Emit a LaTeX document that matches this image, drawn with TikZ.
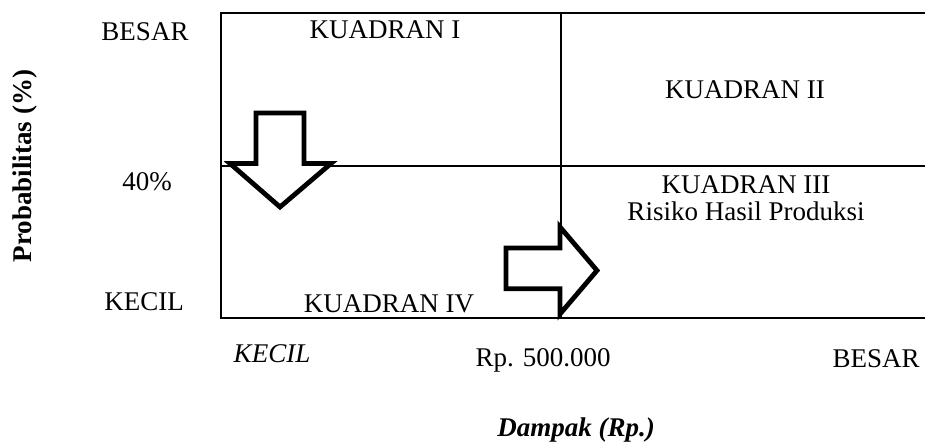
\documentclass[tikz,border=0pt]{standalone}
\usepackage{fontspec}
\setmainfont{Liberation Serif}
\begin{document}
\begin{tikzpicture}[x=1pt,y=-1pt,
  lbl/.style={anchor=base,inner sep=0pt,font=\fontsize{27}{31}\selectfont},
  grid/.style={line width=2pt},
  blockarrow/.style={draw=black,fill=white,line width=4.8pt,miter limit=10}]
\useasboundingbox (0,0) rectangle (925,443);

% quadrant frame, open on the right
\coordinate (tl) at (221,13);
\coordinate (tr) at (925,13);
\coordinate (bl) at (221,318);
\coordinate (br) at (925,318);
\coordinate (ml) at (221,166);
\coordinate (mr) at (925,166);
\coordinate (mt) at (561,13);
\coordinate (mb) at (561,318);
\draw[grid] (tr) -- (tl) -- (bl) -- (br);
\draw[grid,line width=1.6pt] (ml) -- (mr);
\draw[grid,line width=1.6pt] (mt) -- (mb);

% block arrows
\draw[blockarrow] (256,113) -- (304,113) -- (304,163.5) -- (331,163.5)
  -- (280,207) -- (230,163.5) -- (256,163.5) -- cycle;
\draw[blockarrow] (506,248) -- (560,248) -- (560,227) -- (597,270.5)
  -- (560,314) -- (560,288.7) -- (506,288.7) -- cycle;

% quadrant labels
\node[lbl] (q1) at (385,39) {KUADRAN I};
\node[lbl] (q2) at (745,99) {KUADRAN II};
\node[lbl] (q3) at (746,194) {KUADRAN III};
\node[lbl] (q3b) at (746,221) {Risiko Hasil Produksi};
\node[lbl] (q4) at (389,312) {KUADRAN IV};

% vertical axis
\node[lbl] (ybig) at (145,41) {BESAR};
\node[lbl] (ymid) at (147,191) {40\%};
\node[lbl] (ysmall) at (144,310) {KECIL};
\node[lbl,rotate=90,font=\fontsize{27}{31}\selectfont\bfseries] (ytitle) at (31,166) {Probabilitas (\%)};

% horizontal axis
\node[lbl,font=\fontsize{27}{31}\selectfont\itshape] (xsmall) at (272,362) {KECIL};
\node[lbl] (xmid) at (543,366) {Rp. 500.000};
\node[lbl] (xbig) at (876,367) {BESAR};
\node[lbl,font=\fontsize{27}{31}\selectfont\bfseries\itshape] (xtitle) at (576,436) {Dampak (Rp.)};
\end{tikzpicture}
\end{document}
